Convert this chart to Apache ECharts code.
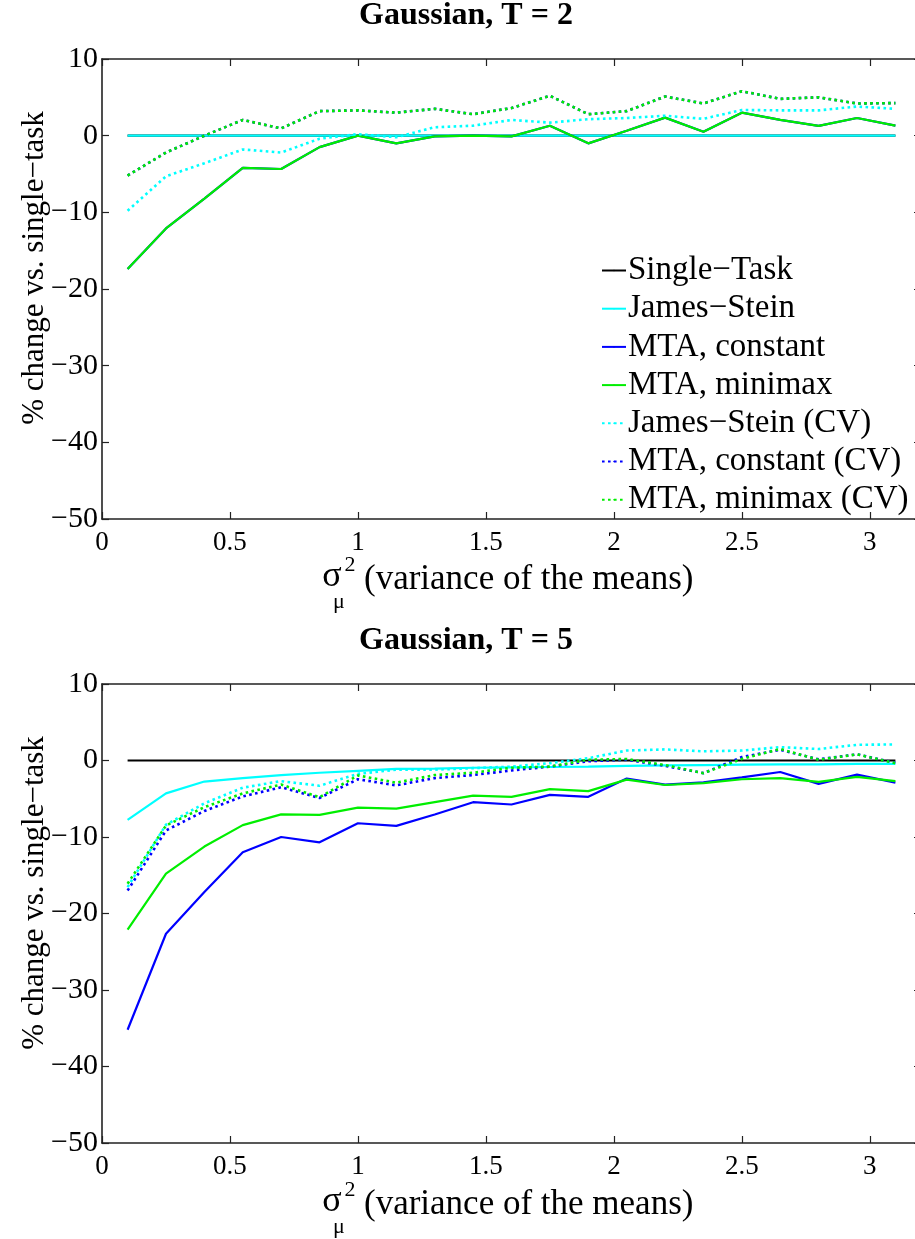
<!DOCTYPE html>
<html>
<head>
<meta charset="utf-8">
<script src="https://cdn.jsdelivr.net/npm/echarts@6/dist/echarts.min.js"></script>
<style>
  html, body { margin: 0; padding: 0; background: #ffffff; }
  #chart { width: 915px; height: 1239px; }
</style>
</head>
<body>
<div id="chart"></div>
<script>
// sigma_mu^2 values where each method was evaluated
const sigmaMu2 = [0.1, 0.25, 0.4, 0.55, 0.7, 0.85, 1.0, 1.15, 1.3, 1.45, 1.6, 1.75, 1.9, 2.05, 2.2, 2.35, 2.5, 2.65, 2.8, 2.95, 3.1];

// ---- Gaussian, T = 2 : % change vs. single-task ----
const singleTaskT2      = [0, 0, 0, 0, 0, 0, 0, 0, 0, 0, 0, 0, 0, 0, 0, 0, 0, 0, 0, 0, 0];
const jamesSteinT2      = [0, 0, 0, 0, 0, 0, 0, 0, 0, 0, 0, 0, 0, 0, 0, 0, 0, 0, 0, 0, 0];
const mtaConstantT2     = [-17.4, -12.1, -8.2, -4.2, -4.35, -1.5, 0, -1.0, -0.1, 0, -0.1, 1.3, -1.0, 0.65, 2.35, 0.5, 3.0, 2.05, 1.27, 2.3, 1.3];
const mtaMinimaxT2      = [-17.4, -12.1, -8.2, -4.2, -4.35, -1.5, 0, -1.0, -0.1, 0, -0.1, 1.3, -1.0, 0.65, 2.35, 0.5, 3.0, 2.05, 1.27, 2.3, 1.3];
const jamesSteinCvT2    = [-9.8, -5.3, -3.6, -1.8, -2.2, -0.4, 0.2, -0.2, 1.1, 1.3, 2.05, 1.7, 2.15, 2.3, 2.6, 2.2, 3.35, 3.3, 3.3, 3.8, 3.5];
const mtaConstantCvT2   = [-5.2, -2.2, 0.0, 2.05, 0.95, 3.2, 3.3, 3.0, 3.5, 2.8, 3.6, 5.2, 2.8, 3.2, 5.1, 4.2, 5.8, 4.8, 5.0, 4.2, 4.25];
const mtaMinimaxCvT2    = [-5.2, -2.2, 0.0, 2.05, 0.95, 3.2, 3.3, 3.0, 3.5, 2.8, 3.6, 5.2, 2.8, 3.2, 5.1, 4.2, 5.8, 4.8, 5.0, 4.2, 4.25];

// ---- Gaussian, T = 5 : % change vs. single-task ----
const singleTaskT5      = [0, 0, 0, 0, 0, 0, 0, 0, 0, 0, 0, 0, 0, 0, 0, 0, 0, 0, 0, 0, 0];
const jamesSteinT5      = [-7.75, -4.3, -2.75, -2.3, -1.9, -1.6, -1.35, -1.1, -1.05, -0.95, -0.9, -0.85, -0.8, -0.7, -0.65, -0.6, -0.55, -0.5, -0.5, -0.45, -0.45];
const mtaConstantT5     = [-35.2, -22.65, -17.2, -12.0, -10.0, -10.7, -8.2, -8.55, -7.05, -5.45, -5.75, -4.5, -4.75, -2.35, -3.15, -2.85, -2.2, -1.5, -3.05, -1.85, -2.9];
const mtaMinimaxT5      = [-22.1, -14.8, -11.25, -8.45, -7.05, -7.1, -6.15, -6.3, -5.45, -4.6, -4.75, -3.75, -4.0, -2.5, -3.2, -2.95, -2.45, -2.3, -2.8, -2.15, -2.7];
const jamesSteinCvT5    = [-16.55, -8.4, -5.6, -3.55, -2.7, -3.3, -1.75, -1.2, -1.2, -1.0, -0.8, -0.35, 0.3, 1.3, 1.45, 1.2, 1.3, 1.75, 1.5, 2.05, 2.1];
const mtaConstantCvT5   = [-17.0, -9.15, -6.6, -4.7, -3.5, -4.9, -2.45, -3.25, -2.3, -1.9, -1.3, -0.8, -0.1, 0.1, -0.7, -1.65, 0.45, 1.4, 0.15, 0.8, -0.3];
const mtaMinimaxCvT5    = [-16.1, -8.5, -6.1, -4.3, -3.15, -4.8, -1.95, -2.9, -1.9, -1.6, -0.95, -0.8, 0.1, 0.2, -0.6, -1.65, 0.2, 1.5, 0.1, 0.8, -0.35];

// method names (legend order = draw order)
const methodNames = ['Single\u2212Task', 'James\u2212Stein', 'MTA, constant', 'MTA, minimax',
                     'James\u2212Stein (CV)', 'MTA, constant (CV)', 'MTA, minimax (CV)'];
const panelTitles = ['Gaussian, T = 2', 'Gaussian, T = 5'];
const yTicks = { min: -50, max: 10, step: 10 };
const xTicks = { min: 0, max: 3.2, step: 0.5 };

const panelData = [
  [singleTaskT2, jamesSteinT2, mtaConstantT2, mtaMinimaxT2, jamesSteinCvT2, mtaConstantCvT2, mtaMinimaxCvT2],
  [singleTaskT5, jamesSteinT5, mtaConstantT5, mtaMinimaxT5, jamesSteinCvT5, mtaConstantCvT5, mtaMinimaxCvT5]
];

// line styling per method
const methodStyle = [
  { color: '#000000', dotted: false },
  { color: '#00ffff', dotted: false },
  { color: '#0000ff', dotted: false },
  { color: '#00ee00', dotted: false },
  { color: '#00ffff', dotted: true },
  { color: '#0000ff', dotted: true },
  { color: '#00ee00', dotted: true }
];

const SERIF = '"Liberation Serif", "Times New Roman", serif';
const AXIS_COLOR = '#222222';

// panel geometry (the right edge of the box sits just past the page edge)
const panels = [
  { left: 102, top: 59,  width: 819, height: 460 },
  { left: 102, top: 684, width: 819, height: 459 }
];

const minusFmt = v => (v < 0 ? '\u2212' + Math.abs(v) : String(v));

const grid = [], xAxis = [], yAxis = [], series = [], graphic = [];

panels.forEach((p, i) => {
  grid.push({ left: p.left, top: p.top, width: p.width, height: p.height,
              containLabel: false, outerBoundsMode: 'none' });

  const baseX = {
    type: 'value', gridIndex: i, min: xTicks.min, max: xTicks.max, interval: xTicks.step,
    axisLine: { show: true, onZero: false, lineStyle: { color: AXIS_COLOR, width: 1.6 } },
    axisTick: { show: true, inside: true, length: 7, lineStyle: { color: AXIS_COLOR, width: 1.2 } },
    splitLine: { show: false }
  };
  xAxis.push(Object.assign({}, baseX, {
    position: 'bottom',
    axisLabel: { show: true, margin: 10, fontFamily: SERIF, fontSize: 27, color: '#000', showMaxLabel: false,
                 formatter: v => minusFmt(v) }
  }));
  xAxis.push(Object.assign({}, baseX, { position: 'top', axisLabel: { show: false } }));

  const baseY = {
    type: 'value', gridIndex: i, min: yTicks.min, max: yTicks.max, interval: yTicks.step,
    axisLine: { show: true, onZero: false, lineStyle: { color: AXIS_COLOR, width: 1.6 } },
    axisTick: { show: true, inside: true, length: 7, lineStyle: { color: AXIS_COLOR, width: 1.2 } },
    splitLine: { show: false }
  };
  yAxis.push(Object.assign({}, baseY, {
    position: 'left',
    axisLabel: { show: true, margin: 4, fontFamily: SERIF, fontSize: 30, color: '#000', formatter: minusFmt }
  }));
  yAxis.push(Object.assign({}, baseY, { position: 'right', axisLabel: { show: false } }));

  panelData[i].forEach((vals, k) => {
    const st = methodStyle[k];
    series.push({
      name: methodNames[k],
      type: 'line',
      xAxisIndex: i * 2,
      yAxisIndex: i * 2,
      data: sigmaMu2.map((x, j) => [x, vals[j]]),
      symbol: 'none',
      silent: true,
      animation: false,
      lineStyle: st.dotted
        ? { color: st.color, width: 2.6, type: [2.6, 3.4] }
        : { color: st.color, width: 2.2, type: 'solid' },
      itemStyle: { color: st.color },
      z: 2 + k
    });
  });

  const dy = p.top - panels[0].top;
  // panel title
  graphic.push({
    type: 'text', x: 466, y: 16 + dy,
    style: { text: panelTitles[i], font: 'bold 32px ' + SERIF, fill: '#000', align: 'center', verticalAlign: 'middle' }
  });
  // y-axis name
  graphic.push({
    type: 'text', x: 35, y: 268 + dy, rotation: Math.PI / 2,
    style: { text: '% change vs. single\u2212task', font: '31px ' + SERIF, fill: '#000', align: 'center', verticalAlign: 'middle' }
  });
  // x-axis name: sigma_mu^2 (variance of the means)
  graphic.push({
    type: 'text', x: 332, y: 577 + dy,
    style: { text: '\u03c3', font: '36px ' + SERIF, fill: '#000', align: 'center', verticalAlign: 'middle' }
  });
  graphic.push({
    type: 'text', x: 350, y: 565 + dy,
    style: { text: '2', font: '22px ' + SERIF, fill: '#000', align: 'center', verticalAlign: 'middle' }
  });
  graphic.push({
    type: 'text', x: 339, y: 602 + dy,
    style: { text: '\u03bc', font: '22px ' + SERIF, fill: '#000', align: 'center', verticalAlign: 'middle' }
  });
  graphic.push({
    type: 'text', x: 364, y: 580 + dy,
    style: { text: '(variance of the means)', font: '35px ' + SERIF, fill: '#000', align: 'left', verticalAlign: 'middle' }
  });
});

const chart = echarts.init(document.getElementById('chart'), null, { renderer: 'canvas' });
chart.setOption({
  backgroundColor: '#ffffff',
  animation: false,
  grid, xAxis, yAxis, series, graphic,
  legend: {
    data: methodNames,
    orient: 'vertical',
    left: 601,
    top: 254,
    itemWidth: 24,
    itemHeight: 2,
    itemGap: 5.2,
    padding: 0,
    selectedMode: false,
    backgroundColor: 'transparent',
    lineStyle: { width: 2 },
    textStyle: { fontFamily: SERIF, fontSize: 33, color: '#000', lineHeight: 33, padding: [0, 0, 0, -3] }
  }
});
</script>
</body>
</html>
